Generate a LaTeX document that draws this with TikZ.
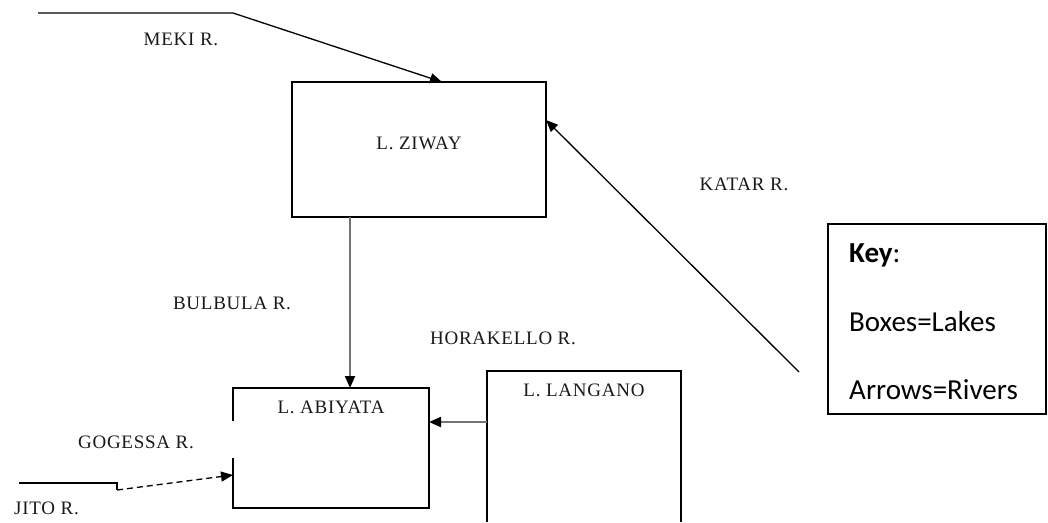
\documentclass[tikz,border=0pt]{standalone}
\usepackage{fontspec}
\setmainfont{Liberation Serif}
\newfontfamily\keyfont{Carlito}
\newfontfamily\labelfont[LetterSpace=4]{Liberation Serif}
\usetikzlibrary{arrows.meta}

\begin{document}
\begin{tikzpicture}[x=1pt,y=-1pt,
  lakebox/.style={draw, line width=1.3pt, inner sep=0pt, outer sep=0pt},
  lakearea/.style={inner sep=0pt, outer sep=0pt},
  lakelabel/.style={font=\labelfont\fontsize{19}{22}\selectfont, text=black!90, inner sep=0pt},
  river/.style={line width=1.3pt, -{Triangle[length=12pt, width=10pt, color=black]}},
  riverline/.style={line width=1.3pt},
  greyriver/.style={river, draw=black!55, line width=2pt},
  seasonal/.style={river, dash pattern=on 6pt off 4pt},
  keytext/.style={font=\keyfont\fontsize{29}{34}\selectfont, anchor=west, inner sep=0pt}
]
\useasboundingbox (0,0) rectangle (1048,522);

% lakes
\node[lakebox, minimum width=254pt, minimum height=135pt] (ziway) at (419,149.5) {};
\node[lakearea, minimum width=196pt, minimum height=120pt] (abiyata) at (331,448) {};
\node[lakearea, minimum width=194pt, minimum height=151pt] (langano) at (584,446.5) {};

% Abiyata outline, left side open where the Gogessa enters
\draw[line width=1.3pt] (233,421) -- (abiyata.north west) -- (abiyata.north east)
  -- (abiyata.south east) -- (abiyata.south west) -- (233,458);
% Langano runs off the bottom edge
\draw[line width=1.3pt] (langano.south west) -- (langano.north west)
  -- (langano.north east) -- (langano.south east);

\node[lakelabel] (ziwaylbl) at (419,143) {L. ZIWAY};
\node[lakelabel] (abiyatalbl) at (331,407) {L. ABIYATA};
\node[lakelabel] (langanolbl) at (584,390) {L. LANGANO};

% rivers
\coordinate (mekisrc) at (38,13);
\coordinate (mekibend) at (233,13);
\draw[river] (mekisrc) -- (mekibend) -- (ziway.north -| 442,0);
\node[lakelabel] (mekilbl) at (181,39) {MEKI R.};

\coordinate (katarsrc) at (799,372);
\draw[river] (katarsrc) -- (ziway.east |- 0,120);
\node[lakelabel] (katarlbl) at (744,184) {KATAR R.};

\draw[greyriver] (ziway.south -| 350,0) -- (abiyata.north -| 350,0);
\node[lakelabel] (bulbulalbl) at (232,303) {BULBULA R.};

\draw[greyriver] (langano.west |- 0,422) -- (abiyata.east |- 0,422);
\node[lakelabel] (horakellolbl) at (503,338) {HORAKELLO R.};

\coordinate (jitosrc) at (19,483);
\coordinate (jitobend) at (117,483);
\coordinate (jitodrop) at (117,490);
\draw[riverline] (jitosrc) -- (jitobend) -- (jitodrop);
\draw[seasonal] (jitodrop) -- (abiyata.west |- 0,475);
\node[lakelabel] (gogessalbl) at (136,442) {GOGESSA R.};
\node[lakelabel, anchor=west] (jitolbl) at (14,508) {JITO R.};

% key
\node[draw, line width=1.6pt, minimum width=218pt, minimum height=190pt, inner sep=0pt] (key) at (937,319) {};
\node[keytext] (keyhead) at (849,255) {\textbf{Key}:};
\node[keytext] (keyboxes) at (849,322) {Boxes=Lakes};
\node[keytext] (keyarrows) at (849,390) {Arrows=Rivers};
\end{tikzpicture}
\end{document}
